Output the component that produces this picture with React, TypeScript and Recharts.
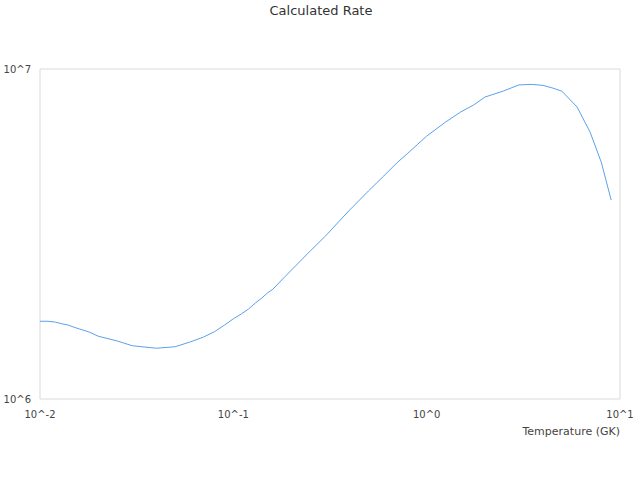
import { LineChart, Line, XAxis, YAxis, ReferenceArea } from 'recharts';

// temperature grid (GK)
const temps = [
  0.01, 0.011, 0.012, 0.013, 0.014, 0.015, 0.016, 0.018, 0.02, 0.025, 0.03, 0.04, 0.05, 0.06,
  0.07, 0.08, 0.09, 0.1, 0.11, 0.12, 0.13, 0.14, 0.15, 0.16, 0.18, 0.2, 0.25, 0.3, 0.35, 0.4,
  0.45, 0.5, 0.6, 0.7, 0.8, 0.9, 1, 1.25, 1.5, 1.75, 2, 2.5, 3, 3.5, 4, 4.5, 5, 6, 7, 8, 9,
];

// calculated rate
const rates = [
  1.72e6, 1.72e6, 1.71e6, 1.69e6, 1.675e6, 1.65e6, 1.63e6, 1.595e6, 1.55e6, 1.5e6, 1.45e6,
  1.425e6, 1.44e6, 1.49e6, 1.54e6, 1.6e6, 1.675e6, 1.75e6, 1.81e6, 1.875e6, 1.955e6, 2.02e6,
  2.095e6, 2.15e6, 2.31e6, 2.46e6, 2.81e6, 3.12e6, 3.44e6, 3.74e6, 4.01e6, 4.27e6, 4.74e6,
  5.19e6, 5.56e6, 5.92e6, 6.26e6, 6.9e6, 7.41e6, 7.78e6, 8.22e6, 8.58e6, 8.95e6, 8.98e6,
  8.92e6, 8.75e6, 8.57e6, 7.67e6, 6.44e6, 5.22e6, 4.01e6,
];

const xTicks = [0.01, 0.1, 1, 10];
const yTicks = [1e6, 1e7];

const data = temps.map((t, i) => ({ t, rate: rates[i] }));

const pow10 = (v: number) => `10^${Math.round(Math.log10(v))}`;

const txt = '#444';

export default function App() {
  return (
    <div style={{ position: 'absolute', left: 0, top: 0, width: 640, height: 480, background: '#fff', fontFamily: 'DejaVu Sans' }}>
      <div style={{ position: 'absolute', top: 3, left: 0, width: 642, textAlign: 'center', fontSize: 13, color: '#333' }}>
        Calculated Rate
      </div>
      <LineChart width={640} height={480} data={data} margin={{ top: 69, right: 20, bottom: 0, left: 0 }}>
        <XAxis
          dataKey="t"
          type="number"
          scale="log"
          domain={[0.01, 10]}
          ticks={xTicks}
          allowDataOverflow
          axisLine={false}
          tickLine={false}
          tickSize={0}
          tickMargin={12}
          height={81}
          tickFormatter={pow10}
          tick={{ fill: txt, fontSize: 10 }}
          label={({ viewBox }: any) => (
            <text x={viewBox.x + viewBox.width} y={viewBox.y + 36} textAnchor="end" fontSize={11} fill={txt}>
              Temperature (GK)
            </text>
          )}
        />
        <YAxis
          type="number"
          scale="log"
          domain={[1e6, 1e7]}
          ticks={yTicks}
          allowDataOverflow
          axisLine={false}
          tickLine={false}
          tickSize={0}
          tickMargin={9}
          width={40}
          tickFormatter={pow10}
          tick={{ fill: txt, fontSize: 10 }}
        />
        <ReferenceArea x1={0.01} x2={10} y1={1e6} y2={1e7} fill="none" stroke="#d9d9d9" strokeWidth={1} />
        <Line type="linear" dataKey="rate" stroke="#5aa2ea" strokeWidth={1} dot={false} isAnimationActive={false} />
      </LineChart>
    </div>
  );
}
